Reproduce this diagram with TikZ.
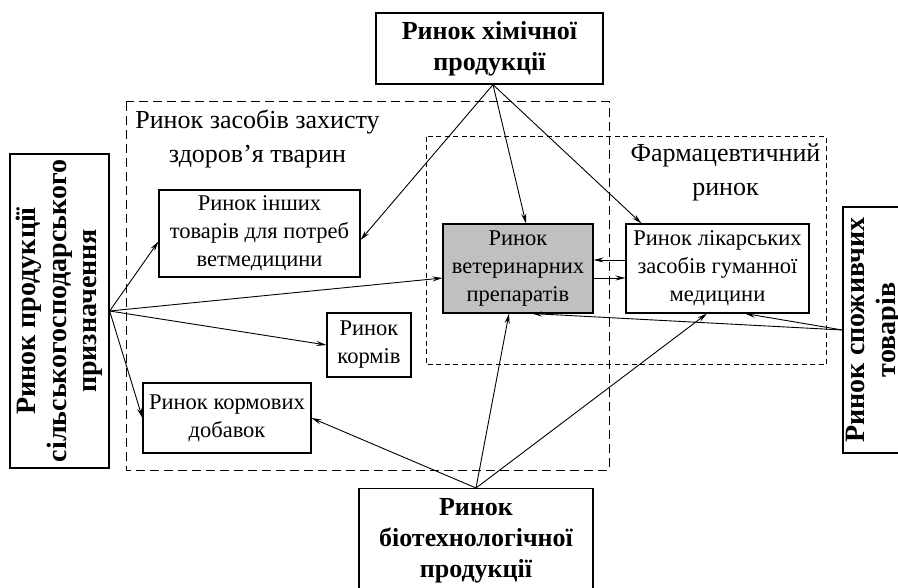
\documentclass[tikz,border=0pt]{standalone}
\usepackage{fontspec}
\setmainfont{Liberation Serif}
\usetikzlibrary{arrows.meta}
\begin{document}
\begin{tikzpicture}[x=1pt,y=-1pt,
  box/.style={draw, line width=1.1pt, fill=white, align=center, inner sep=0pt,
    font=\fontsize{22.5}{28}\selectfont},
  bigbox/.style={draw, line width=1.3pt, fill=white, align=center, inner sep=0pt,
    font=\fontsize{26}{31}\selectfont\bfseries},
  sidebox/.style={draw, line width=1.3pt, fill=white, align=center, inner sep=0pt,
    font=\fontsize{28}{30.5}\selectfont\bfseries},
  title/.style={align=center, inner sep=0pt, font=\fontsize{26}{34}\selectfont},
  conn/.style={line width=0.9pt, -{Stealth[length=10pt,width=5pt,inset=3.5pt]}},
  outerzone/.style={line width=1pt, dash pattern=on 9pt off 5pt},
  innerzone/.style={line width=1pt, dash pattern=on 5pt off 3.5pt}]
\useasboundingbox (0,0) rectangle (898,588);
\begin{scope}
\clip (0,0) rectangle (898,588);
% zones
\draw[outerzone] (126,102) rectangle (609,470);
\draw[innerzone] (426,137) rectangle (826,365);
\node[title] (zt) at (257.5,139) {Ринок засобів захисту\\здоров’я тварин};
\node[title] (pt) at (725.5,172) {Фармацевтичний\\ринок};
% boxes
\node[bigbox, minimum width=227, minimum height=71] (chem) at (489.5,48.5) {Ринок хімічної\\продукції};
\node[sidebox, minimum width=314, minimum height=99, rotate=90] (left) at (59.5,311) {Ринок продукції\\сільськогосподарського\\призначення};
\node[sidebox, minimum width=246, minimum height=62, rotate=90] (right) at (874,330) {Ринок споживчих\\товарів};
\node[bigbox, minimum width=234, minimum height=104, anchor=north] (bio) at (476,488) {Ринок\\біотехнологічної\\продукції};
\node[box, fill={rgb,255:red,192;green,192;blue,192}, minimum width=150, minimum height=89] (vet) at (518,268.5) {Ринок\\ветеринарних\\препаратів};
\node[box, minimum width=183, minimum height=89] (hum) at (717.5,268.5) {Ринок лікарських\\засобів гуманної\\медицини};
\node[box, minimum width=201, minimum height=87] (oth) at (259.5,233.5) {Ринок інших\\товарів для потреб\\ветмедицини};
\node[box, minimum width=84, minimum height=64] (feed) at (369,345) {Ринок\\кормів};
\node[box, minimum width=168, minimum height=70] (add) at (227,418) {Ринок кормових\\добавок};
% connectors
\draw[conn] ([xshift=3.5pt]chem.south) -- ([yshift=-6.5pt]oth.east);
\draw[conn] ([xshift=3.5pt]chem.south) -- ([xshift=8pt]vet.north);
\draw[conn] ([xshift=3.5pt]chem.south) -- ([xshift=16pt]hum.north west);
\draw[conn] (left.south) -- ([yshift=-8pt]oth.west);
\draw[conn] (left.south) -- ([yshift=-9.5pt]vet.west);
\draw[conn] (left.south) -- (feed.west);
\draw[conn] (left.south) -- (add.west);
\draw[conn] ([yshift=8.5pt]hum.west) -- ([yshift=8.5pt]vet.east);
\draw[conn] ([yshift=-9.5pt]vet.east) -- ([yshift=-9.5pt]hum.west);
\draw[conn] (right.north) -- ([xshift=14pt]vet.south);
\draw[conn] (right.north) -- ([xshift=27.5pt]hum.south);
\draw[conn] (bio.north) -- (add.east);
\draw[conn] (bio.north) -- ([xshift=-9pt]vet.south);
\draw[conn] (bio.north) -- ([xshift=-10.5pt]hum.south);
\end{scope}
\end{tikzpicture}
\end{document}
